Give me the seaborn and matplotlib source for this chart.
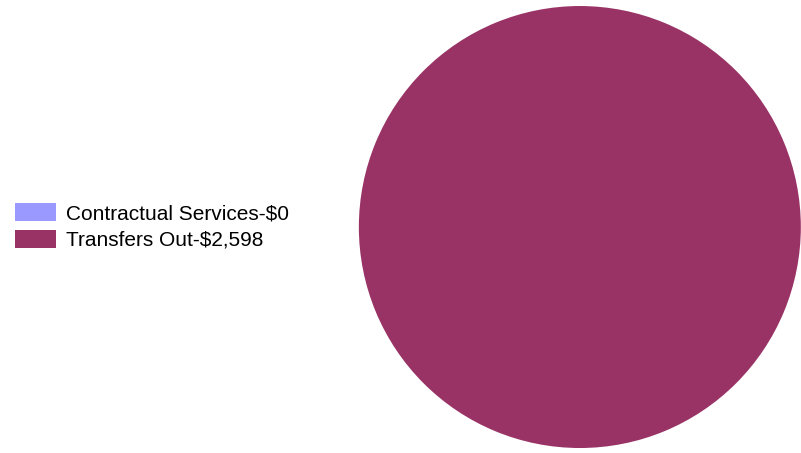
import matplotlib
matplotlib.use('Agg')
import matplotlib.pyplot as plt
import seaborn as sns
from matplotlib.patches import Patch

sns.set_theme(style='white')
plt.rcParams['font.family'] = ['Liberation Sans', 'DejaVu Sans']

# 数据
categories = ['Contractual Services', 'Transfers Out']
values = [0, 2598]
colors = ['#9999FF', '#993366']
labels = [f'{c}-${v:,}' for c, v in zip(categories, values)]

fig = plt.figure(figsize=(8.01, 4.53), dpi=100)
ax = fig.add_axes([0.448, 0.011, 0.5518, 0.9757])
ax.pie(values, colors=colors, startangle=90, counterclock=False,
       wedgeprops={'linewidth': 0})
ax.set_xlim(-1, 1)
ax.set_ylim(-1, 1)
ax.set_aspect('equal')
ax.axis('off')

handles = [Patch(facecolor=c, edgecolor='none') for c in colors]
fig.legend(handles, labels, loc='upper left', bbox_to_anchor=(0.0187, 0.551),
           frameon=False, fontsize=15, handlelength=1.97, handleheight=0.95,
           handletextpad=0.48, labelspacing=0.3, borderpad=0, borderaxespad=0,
           labelcolor='black')

fig.savefig('out.png', dpi=100)
